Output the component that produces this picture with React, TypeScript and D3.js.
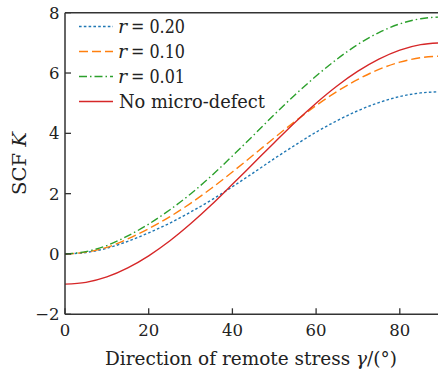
import React from "react";
import * as d3 from "d3";

const gammaDeg = [0, 5, 10, 15, 20, 25, 30, 35, 40, 45, 50, 55, 60, 65, 70, 75, 80, 85, 90];
const kR020 = [0, 0.05, 0.19, 0.42, 0.7, 1.02, 1.39, 1.79, 2.23, 2.69, 3.16, 3.61, 4.04, 4.42, 4.75, 5.02, 5.22, 5.34, 5.38];
const kR010 = [0, 0.06, 0.22, 0.5, 0.84, 1.23, 1.68, 2.18, 2.72, 3.28, 3.85, 4.4, 4.92, 5.39, 5.79, 6.12, 6.36, 6.51, 6.56];
const kR001 = [0, 0.08, 0.28, 0.6, 0.99, 1.46, 1.99, 2.59, 3.25, 3.93, 4.62, 5.28, 5.9, 6.46, 6.95, 7.34, 7.63, 7.8, 7.86];
const kNoDefect = [-1, -0.94, -0.76, -0.46, -0.06, 0.43, 1.0, 1.63, 2.31, 3.0, 3.69, 4.37, 5.0, 5.57, 6.06, 6.46, 6.76, 6.94, 7.0];

const xTicks = [0, 20, 40, 60, 80];
const yTicks = [-2, 0, 2, 4, 6, 8];

const seriesNames = ["0.20", "0.10", "0.01", "No micro-defect"];
const seriesColors = ["#1f77b4", "#ff7f0e", "#2ca02c", "#d62728"];
const seriesDash = ["2.6,2.2", "9,4", "8,3,1.5,3", ""];
const seriesValues = [kR020, kR010, kR001, kNoDefect];

const W = 438;
const H = 373;
const left = 65;
const top = 12.7;
const bottom = 314.3;
const font = "'DejaVu Serif', serif";

export default function App() {
  const x = d3.scaleLinear().domain([0, 90]).range([left, left + 90 * 4.185]);
  const y = d3.scaleLinear().domain([-2, 8]).range([bottom, top]);
  const line = d3
    .line<number>()
    .x((_, i) => x(gammaDeg[i]))
    .y((d) => y(d))
    .curve(d3.curveMonotoneX);
  const axisColor = "#333";
  return (
    <div style={{ position: "absolute", left: 0, top: 0 }}>
      <svg width={W} height={H} style={{ display: "block", background: "#fff" }}>
        <defs>
          <clipPath id="plotclip">
            <rect x={left} y={top - 2} width={W - left} height={bottom - top + 4} />
          </clipPath>
        </defs>
        <g clipPath="url(#plotclip)">
          {seriesValues.map((vals, si) => (
            <path
              key={si}
              d={line(vals) || ""}
              fill="none"
              stroke={seriesColors[si]}
              strokeWidth={1.4}
              strokeDasharray={seriesDash[si] || undefined}
            />
          ))}
        </g>
        {/* spines */}
        <line x1={left} x2={left} y1={top} y2={bottom} stroke={axisColor} strokeWidth={1.5} />
        <line x1={left} x2={W} y1={bottom} y2={bottom} stroke={axisColor} strokeWidth={1.5} />
        <line x1={left} x2={W} y1={top} y2={top} stroke={axisColor} strokeWidth={1.5} />
        {/* x ticks */}
        {xTicks.map((t) => (
          <g key={"x" + t}>
            <line x1={x(t)} x2={x(t)} y1={bottom} y2={bottom - 6} stroke={axisColor} strokeWidth={1.3} />
            <text x={x(t)} y={336} textAnchor="middle" fontFamily={font} fontSize={16.5} fill="#222">
              {t}
            </text>
          </g>
        ))}
        {/* y ticks */}
        {yTicks.map((t) => (
          <g key={"y" + t}>
            <line x1={left} x2={left + 6} y1={y(t)} y2={y(t)} stroke={axisColor} strokeWidth={1.3} />
            <text x={59.5} y={y(t) + 6} textAnchor="end" fontFamily={font} fontSize={16.5} fill="#222">
              {t < 0 ? "\u2212" + Math.abs(t) : t}
            </text>
          </g>
        ))}
        {/* axis titles */}
        <text
          x={105}
          y={365}
          fontFamily={font}
          fontSize={18}
          fill="#222"
          textLength={292}
          lengthAdjust="spacingAndGlyphs"
        >
          Direction of remote stress <tspan fontStyle="italic">γ</tspan>/(°)
        </text>
        <text
          transform={`translate(26,163.5) rotate(-90)`}
          x={-31.5}
          fontFamily={font}
          fontSize={18}
          fill="#222"
          textLength={63}
          lengthAdjust="spacingAndGlyphs"
        >
          SCF <tspan fontStyle="italic">K</tspan>
        </text>
        {/* legend */}
        {seriesNames.map((name, i) => {
          const ly = 26.5 + i * 25;
          return (
            <g key={"lg" + i}>
              <line
                x1={79}
                x2={113}
                y1={ly}
                y2={ly}
                stroke={seriesColors[i]}
                strokeWidth={1.4}
                strokeDasharray={seriesDash[i] || undefined}
              />
              {i < 3 ? (
                <>
                  <text x={118} y={ly + 6.5} fontFamily={font} fontSize={19} fontStyle="italic" fill="#222">
                    r
                  </text>
                  <text
                    x={131}
                    y={ly + 6.5}
                    fontFamily={font}
                    fontSize={19}
                    fill="#222"
                    textLength={54}
                    lengthAdjust="spacingAndGlyphs"
                  >
                    {"= " + name}
                  </text>
                </>
              ) : (
                <text
                  x={119}
                  y={ly + 6.5}
                  fontFamily={font}
                  fontSize={19}
                  fill="#222"
                  textLength={146}
                  lengthAdjust="spacingAndGlyphs"
                >
                  {name}
                </text>
              )}
            </g>
          );
        })}
      </svg>
    </div>
  );
}
